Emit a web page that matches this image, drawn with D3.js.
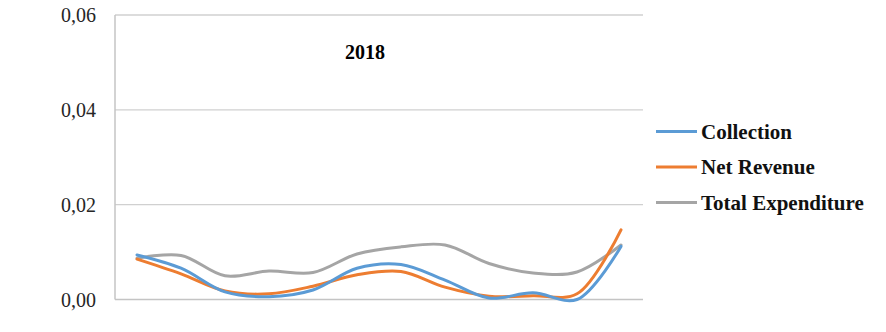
<!DOCTYPE html>
<html>
<head>
<meta charset="utf-8">
<script src="https://cdn.jsdelivr.net/npm/d3@7"></script>
<style>
  body { margin: 0; background: #fff; }
  text { font-family: "Liberation Serif", "Times New Roman", serif; }
</style>
</head>
<body>
<div id="chart"></div>
<script>
// data (12 periods, no x labels shown)
var periods = [1, 2, 3, 4, 5, 6, 7, 8, 9, 10, 11, 12]
var collection = [0.0094, 0.0066, 0.0016, 0.0006, 0.0020, 0.0066, 0.0074, 0.0041, 0.0003, 0.0014, 0.0000, 0.0112]
var netRevenue = [0.0085, 0.0054, 0.0018, 0.0012, 0.0028, 0.0052, 0.0059, 0.0026, 0.0007, 0.0008, 0.0012, 0.0147]
var totalExpenditure = [0.0087, 0.0093, 0.0050, 0.0060, 0.0057, 0.0096, 0.0111, 0.0115, 0.0076, 0.0056, 0.0058, 0.0115]
var yTicks = [0, 0.02, 0.04, 0.06]
var seriesNames = ["Collection", "Net Revenue", "Total Expenditure"]
var seriesColors = ["#5b9bd5", "#ed7d31", "#a5a5a5"]
var chartTitle = "2018"

var width = 886,
    height = 332
var plot = {left: 115, right: 643, top: 15, bottom: 299.5}

var svg = d3.select("#chart")
    .append("svg")
    .attr("width", width)
    .attr("height", height)

var x = d3.scalePoint().domain(periods).range([plot.left, plot.right]).padding(0.5)
var y = d3.scaleLinear().domain([0, 0.06]).range([plot.bottom, plot.top])

// gridlines
svg.selectAll(".grid")
    .data(yTicks)
    .enter()
    .append("line")
    .attr("x1", plot.left)
    .attr("x2", plot.right)
    .attr("y1", function(d){return y(d)})
    .attr("y2", function(d){return y(d)})
    .attr("stroke", function(d){return d == 0 ? "#c4c4c4" : "#d0d0d0"})
    .attr("stroke-width", 1.3)

// vertical axis line
svg.append("line")
    .attr("x1", plot.left).attr("x2", plot.left)
    .attr("y1", plot.top).attr("y2", plot.bottom)
    .attr("stroke", "#c4c4c4")
    .attr("stroke-width", 1.5)

// tick labels
svg.selectAll(".ylab")
    .data(yTicks)
    .enter()
    .append("text")
    .attr("x", 96)
    .attr("y", function(d){return y(d) + 7})
    .attr("text-anchor", "end")
    .attr("font-size", 20)
    .attr("fill", "#262626")
    .text(function(d){return d3.format(".2f")(d).replace(".", ",")})

// title
svg.append("text")
    .attr("x", 365)
    .attr("y", 59)
    .attr("text-anchor", "middle")
    .attr("font-size", 20)
    .attr("font-weight", "bold")
    .attr("fill", "#000")
    .text(chartTitle)

// lines
var allSeries = [collection, netRevenue, totalExpenditure]
var line = d3.line()
    .x(function(d, i){return x(periods[i])})
    .y(function(d){return y(d)})
    .curve(d3.curveCatmullRom.alpha(0.5))

// draw grey first, then orange, then blue on top like the picture
;[2, 1, 0].forEach(function(k){
  svg.append("path")
    .attr("d", line(allSeries[k]))
    .attr("fill", "none")
    .attr("stroke", seriesColors[k])
    .attr("stroke-width", 3)
    .attr("stroke-linecap", "round")
})

// legend
var legend = svg.selectAll(".legend")
    .data(seriesNames)
    .enter()
    .append("g")
    .attr("transform", function(d, i){return "translate(656," + (131.5 + i * 35.5) + ")"})

legend.append("line")
    .attr("x1", 0).attr("x2", 41)
    .attr("y1", 0).attr("y2", 0)
    .attr("stroke", function(d, i){return seriesColors[i]})
    .attr("stroke-width", 3)

legend.append("text")
    .attr("x", 45)
    .attr("y", 7)
    .attr("font-size", 21)
    .attr("font-weight", "bold")
    .attr("fill", "#111")
    .text(function(d){return d})
</script>
</body>
</html>
